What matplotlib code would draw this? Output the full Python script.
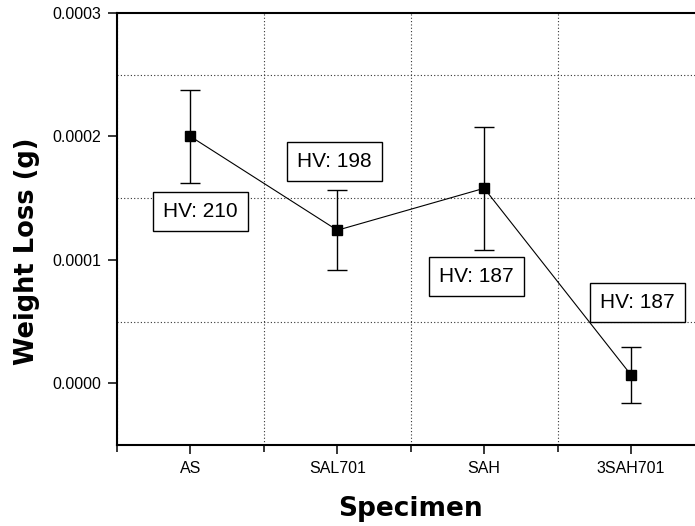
import matplotlib
matplotlib.use("Agg")
import matplotlib.pyplot as plt
from matplotlib.ticker import FixedLocator, MultipleLocator, FormatStrFormatter

specimens = ["AS", "SAL701", "SAH", "3SAH701"]
weight_loss = [0.000200, 0.000124, 0.000158, 0.0000067]
weight_err = [0.0000375, 0.0000325, 0.0000500, 0.0000229]
hv_labels = ["HV: 210", "HV: 198", "HV: 187", "HV: 187"]
label_x = [1.068, 1.98, 2.946, 4.044]
label_y = [0.0001388, 0.000180, 0.0000869, 0.0000658]

plt.rcParams['font.family'] = ['Liberation Sans', 'DejaVu Sans']

fig = plt.figure(figsize=(6.95, 5.26), dpi=100)
ax = fig.add_axes([117/695, 81/526, 587.5/695, 432/526])

x = list(range(1, len(specimens) + 1))
ax.errorbar(x, weight_loss, yerr=weight_err, fmt='s-', color='black',
            ecolor='black', elinewidth=1.0, capsize=7, capthick=1.0,
            markersize=7.2, linewidth=0.8, zorder=3)

for tx, ty, t in zip(label_x, label_y, hv_labels):
    ax.text(tx, ty, t, ha='center', va='center', fontsize=15, zorder=4,
            bbox=dict(boxstyle='square,pad=0.48', facecolor='white',
                      edgecolor='black', linewidth=1.0))

ax.set_xlim(0.5, 4.5)
ax.set_ylim(-0.00005, 0.0003)
ax.set_xticks(x)
ax.set_xticklabels(specimens)
ax.xaxis.set_minor_locator(FixedLocator([0.5, 1.5, 2.5, 3.5, 4.5]))
ax.yaxis.set_major_locator(MultipleLocator(0.0001))
ax.yaxis.set_minor_locator(FixedLocator([0.00005, 0.00015, 0.00025]))
ax.yaxis.set_major_formatter(FormatStrFormatter('%.4f'))

ax.grid(False, which='major')
ax.grid(True, which='minor', linestyle=(0, (1, 2)), color='#333333', linewidth=0.8)

ax.tick_params(axis='both', which='major', direction='out', length=6.5, width=1.1,
               labelsize=11.5, colors='black')
ax.tick_params(axis='x', which='minor', direction='out', length=5, width=1.1)
ax.tick_params(axis='y', which='minor', length=0)
ax.tick_params(axis='x', which='major', pad=5)
ax.tick_params(axis='y', which='major', pad=5)

for s in ax.spines.values():
    s.set_linewidth(1.5)

ax.set_xlabel("Specimen", fontsize=19, fontweight='bold', family='DejaVu Sans')
ax.set_ylabel("Weight Loss (g)", fontsize=18.5, fontweight='bold', family='DejaVu Sans')
ax.xaxis.set_label_coords(0.5, -0.119)
ax.yaxis.set_label_coords(-0.131, 0.449)

fig.savefig("out.png", dpi=100)
